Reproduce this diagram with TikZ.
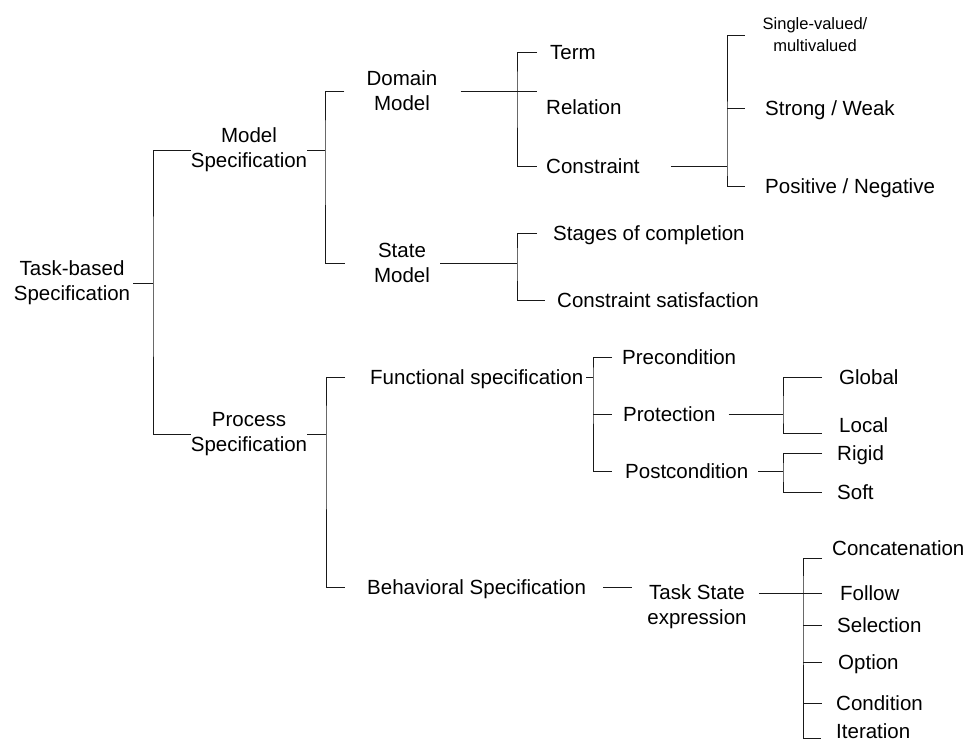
\documentclass[tikz,border=0pt]{standalone}
\usepackage{fontspec}
\setmainfont{Liberation Sans}
\usetikzlibrary{calc}
\newcommand\nodefont{\fontsize{20.5}{25}\selectfont}
\newcommand\smallnodefont{\fontsize{16.5}{22}\selectfont}
\begin{document}
\begin{tikzpicture}[x=1pt,y=-1pt,
  lbl/.style={inner sep=0pt,font=\nodefont},
  leaf/.style={lbl,anchor=west,text height=14.7pt,text depth=0pt},
  multi/.style={lbl,align=center},
  link/.style={line width=0.9pt,draw=black!90}]
\useasboundingbox (0,0) rectangle (967,746);

% ---- labels ----
\node[multi] (root) at (72,283) {Task-based\\Specification};
\node[multi] (ms) at (249,150) {Model\\Specification};
\node[multi] (ps) at (249,434) {Process\\Specification};

% model specification
\node[multi] (dm) at (402,91) {Domain\\Model};
\node[multi] (sm) at (402,263) {State\\Model};
\node[leaf] (term) at (550,52) {Term};
\node[leaf] (rel) at (546,107) {Relation};
\node[leaf] (con) at (546,166) {Constraint};
\node[multi,font=\smallnodefont] (sv) at (815,35) {Single-valued/\\multivalued};
\node[leaf] (sw) at (765,108) {Strong / Weak};
\node[leaf] (pn) at (765,186) {Positive / Negative};
\node[leaf] (stg) at (553,233) {Stages of completion};
\node[leaf] (csat) at (557,300) {Constraint satisfaction};

% process specification
\node[leaf] (fs) at (370,377) {Functional specification};
\node[leaf] (bs) at (367,587) {Behavioral Specification};
\node[leaf] (pre) at (622,357) {Precondition};
\node[leaf] (prot) at (623,414) {Protection};
\node[leaf] (post) at (625,471) {Postcondition};
\node[leaf] (glob) at (839,377) {Global};
\node[leaf] (loc) at (839,425) {Local};
\node[leaf] (rig) at (837,453) {Rigid};
\node[leaf] (soft) at (837,492) {Soft};
\node[multi] (tse) at (697,607) {Task State\\expression};
\node[leaf] (conc) at (832,548) {Concatenation};
\node[leaf] (fol) at (840,593) {Follow};
\node[leaf] (sel) at (837,625) {Selection};
\node[leaf] (opt) at (838,662) {Option};
\node[leaf] (cond) at (836,703) {Condition};
\node[leaf] (iter) at (836,731) {Iteration};

% ---- vertical buses ----
\coordinate (b0) at (153,281);
\coordinate (b1) at (325,148);
\coordinate (b2) at (517,90);
\coordinate (b3) at (517,262);
\coordinate (b4) at (727,166);
\coordinate (b5) at (326,433);
\coordinate (b6) at (593,377);
\coordinate (b7) at (783,414);
\coordinate (b8) at (783,472);
\coordinate (b9) at (803,593);

% root
\draw[link] ([xshift=3pt]root.east) -- (root.east -| b0);
\draw[link] (ms.west) -| (b0) |- (ps.west);

% model specification
\draw[link] (ms.east) -- (ms.east -| b1);
\draw[link] ([xshift=-22pt]dm.west) -| (b1) |- ([xshift=-29pt]sm.west);

% domain model
\draw[link] ([xshift=23pt]dm.east) -- ($(dm.east -| rel.west)+(-9,0)$);
\draw[link] ([xshift=-13pt]term.west) -| (b2) |- ([xshift=-9pt]con.west);

% state model
\draw[link] ([xshift=10pt]sm.east) -- (sm.east -| b3);
\draw[link] ([xshift=-16pt]stg.west) -| (b3) |- ([xshift=-12pt]csat.west);

% constraint
\draw[link] ([xshift=31pt]con.east) -- (con.east -| b4);
\draw[link] ([xshift=-18pt]sv.west) -| (b4) |- ([xshift=-20pt]pn.west);
\draw[link] (sw.west -| b4) -- ([xshift=-20pt]sw.west);

% process specification
\draw[link] (ps.east) -- (ps.east -| b5);
\draw[link] ([xshift=-25pt]fs.west) -| (b5) |- ([xshift=-22pt]bs.west);

% functional specification
\draw[link] ([xshift=3pt]fs.east) -- (fs.east -| b6);
\draw[link] ([xshift=-10pt]pre.west) -| (b6) |- ([xshift=-13pt]post.west);
\draw[link] (prot.west -| b6) -- ([xshift=-11pt]prot.west);

% protection
\draw[link] ([xshift=13pt]prot.east) -- (prot.east -| b7);
\draw[link] ([xshift=-17pt]glob.west) -| (b7) |- ([xshift=-17pt,yshift=-8pt]loc.west);

% postcondition
\draw[link] ([xshift=10pt]post.east) -- (post.east -| b8);
\draw[link] ([xshift=-15pt]rig.west) -| (b8) |- ([xshift=-15pt]soft.west);

% behavioral specification
\draw[link] ([xshift=17pt]bs.east) -- ($(bs.east -| tse.west)+(-15,0)$);

% task state expression
\draw[link] ($(tse.east |- fol.west)+(12,0)$) -- ($(fol.west)+(-18,0)$);
\draw[link] ([xshift=-10pt,yshift=-10pt]conc.west) -| (b9) |- ([xshift=-15pt,yshift=-7pt]iter.west);
\draw[link] (sel.west -| b9) -- ([xshift=-15pt]sel.west);
\draw[link] (opt.west -| b9) -- ([xshift=-16pt]opt.west);
\draw[link] (cond.west -| b9) -- ([xshift=-14pt]cond.west);
\end{tikzpicture}
\end{document}
